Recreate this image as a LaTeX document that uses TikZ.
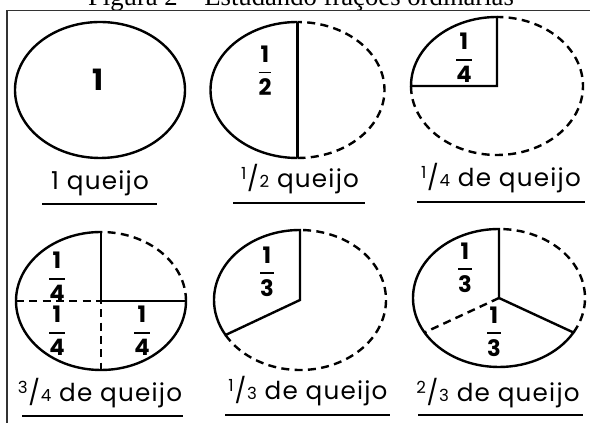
\documentclass[tikz,border=0pt]{standalone}
\usepackage{fontspec}
\usepackage{amsmath}
\setmainfont{Poppins}
\newfontfamily\titlefont{Liberation Serif}
\newfontfamily\labfont[LetterSpace=5]{Poppins}
\usetikzlibrary{calc}
\newcommand\vf[2]{\raisebox{0.33em}{\fontsize{12.5}{12.5}\selectfont #1}\kern0.03em/\kern0.03em{\fontsize{12.5}{12.5}\selectfont #2}}
\newcommand\bfr[2]{$\genfrac{}{}{1.4pt}{0}{\text{\bfseries #1}}{\text{\bfseries #2}}$}
\begin{document}
\begin{tikzpicture}[x=0.75pt,y=-0.75pt,
  outl/.style={line width=1.8pt},
  dashl/.style={line width=1.8pt, dash pattern=on 6pt off 4pt},
  fracn/.style={font=\fontsize{17}{17}\selectfont, inner sep=0pt},
  lab/.style={anchor=base, font=\labfont\fontsize{18.5}{18.5}\selectfont, inner sep=0pt},
  uline/.style={line width=2.2pt},
  framel/.style={line width=0.8pt, black!80}]
\useasboundingbox (0,0) rectangle (590,423);
% title and frame
\node[anchor=base, font=\titlefont\fontsize{20}{20}\selectfont, inner sep=0pt] (title) at (301,6) {Figura 2 – Estudando frações ordinárias};
\coordinate (fbl) at (7,430);
\coordinate (ftl) at (7,10.5);
\coordinate (ftr) at (595,10.5);
\draw[framel] (fbl) -- (ftl) -- (ftr);

% 1 whole
\coordinate (c1) at (100,90);
\draw[outl] (c1) ellipse[x radius=85, y radius=68];
\node[font=\fontsize{22}{22}\selectfont\bfseries, inner sep=0pt] (one) at (98,80) {1};
\node[lab] (l1) at (100,190) {1 queijo};
\coordinate (u1a) at (42,204); \coordinate (u1b) at (157,204);
\draw[uline] (u1a) -- (u1b);

% 1/2
\coordinate (c2) at (297.5,90);
\coordinate (c2t) at ($(c2)+(0,-68)$);
\coordinate (c2b) at ($(c2)+(0,68)$);
\draw[outl] (c2t) arc[start angle=-90, end angle=-270, x radius=87, y radius=68];
\draw[dashl] (c2b) arc[start angle=90, end angle=-90, x radius=87, y radius=68];
\draw[outl] (c2t) -- (c2b);
\node[fracn] (f2) at (265,71) {\bfr{1}{2}};
\node[lab] (l2) at (300,188) {\vf{1}{2} queijo};
\coordinate (u2a) at (233,203); \coordinate (u2b) at (365,203);
\draw[uline] (u2a) -- (u2b);

% 1/4
\coordinate (c3) at (497,86);
\coordinate (c3t) at ($(c3)+(0,-69)$);
\coordinate (c3l) at ($(c3)+(-86,0)$);
\draw[outl] (c3t) arc[start angle=-90, end angle=-180, x radius=86, y radius=69] -- (c3) -- cycle;
\draw[dashl] (c3l) arc[start angle=-180, end angle=-450, x radius=86, y radius=69];
\node[fracn] (f3) at (464,58) {\bfr{1}{4}};
\node[lab] (l3) at (501,187) {\vf{1}{4} de queijo};
\coordinate (u3a) at (417,202); \coordinate (u3b) at (585,202);
\draw[uline] (u3a) -- (u3b);

% 3/4
\coordinate (c4) at (101,301);
\coordinate (c4t) at ($(c4)+(0,-69)$);
\coordinate (c4r) at ($(c4)+(85,0)$);
\coordinate (c4l) at ($(c4)+(-85,0)$);
\coordinate (c4b) at ($(c4)+(0,69)$);
\draw[outl] (c4t) arc[start angle=-90, end angle=-360, x radius=85, y radius=69];
\draw[dashl] (c4r) arc[start angle=0, end angle=-90, x radius=85, y radius=69];
\draw[outl] (c4t) -- (c4) -- (c4r);
\draw[dashl] (c4l) -- (c4) -- (c4b);
\node[fracn] (f4a) at (57,277) {\bfr{1}{4}};
\node[fracn] (f4b) at (57,331) {\bfr{1}{4}};
\node[fracn] (f4c) at (142,331) {\bfr{1}{4}};
\node[lab] (l4) at (100,402) {\vf{3}{4} de queijo};
\coordinate (u4a) at (22,416); \coordinate (u4b) at (183,416);
\draw[uline] (u4a) -- (u4b);

% 1/3
\coordinate (c5) at (300,300);
\coordinate (c5t) at ($(c5)+(0,-70)$);
\coordinate (c5p) at ($(c5)+(-210:86 and 70)$);
\draw[outl] (c5t) arc[start angle=-90, end angle=-210, x radius=86, y radius=70] -- (c5) -- cycle;
\draw[dashl] (c5p) arc[start angle=-210, end angle=-450, x radius=86, y radius=70];
\node[fracn] (f5) at (267,272) {\bfr{1}{3}};
\node[lab] (l5) at (308,400) {\vf{1}{3} de queijo};
\coordinate (u5a) at (225,415); \coordinate (u5b) at (390,415);
\draw[uline] (u5a) -- (u5b);

% 2/3
\coordinate (c6) at (499,298);
\coordinate (c6t) at ($(c6)+(0,-69)$);
\coordinate (c6p) at ($(c6)+(-210:86 and 69)$);
\coordinate (c6q) at ($(c6)+(-330:86 and 69)$);
\draw[outl] (c6t) arc[start angle=-90, end angle=-330, x radius=86, y radius=69] -- (c6) -- cycle;
\draw[dashl] (c6q) arc[start angle=-330, end angle=-450, x radius=86, y radius=69];
\draw[dashl] (c6) -- (c6p);
\node[fracn] (f6a) at (465,268) {\bfr{1}{3}};
\node[fracn] (f6b) at (494,332) {\bfr{1}{3}};
\node[lab] (l6) at (498,402) {\vf{2}{3} de queijo};
\coordinate (u6a) at (418,415); \coordinate (u6b) at (583,415);
\draw[uline] (u6a) -- (u6b);
\end{tikzpicture}
\end{document}
